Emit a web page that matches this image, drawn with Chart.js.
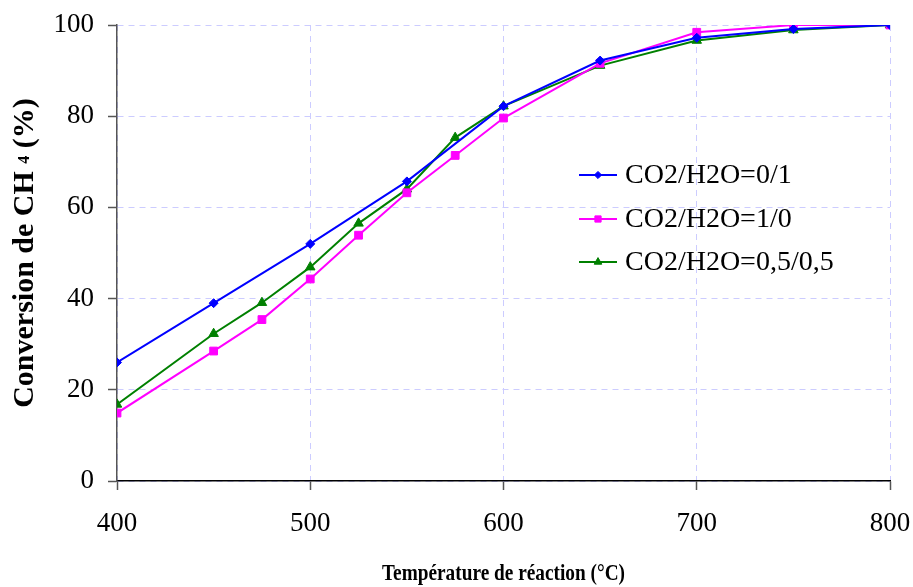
<!DOCTYPE html>
<html>
<head>
<meta charset="utf-8">
<script src="https://cdn.jsdelivr.net/npm/chart.js@4/dist/chart.umd.min.js"></script>
<style>
html,body{margin:0;padding:0;background:#fff;}
#wrap{width:913px;height:587px;position:relative;}
</style>
</head>
<body>
<div id="wrap"><canvas id="c" width="913" height="587"></canvas></div>
<script>
// Data
const xLabelTitle = "Température de réaction (°C)";
const yTitleParts = ["Conversion de CH ", "4", " (%)"];   // "4" is drawn as a small subscript
const seriesNames = ["CO2/H2O=0/1", "CO2/H2O=1/0", "CO2/H2O=0,5/0,5"];

const tempBlue = [400, 450, 500, 550, 600, 650, 700, 750, 800];
const convBlue = [26.0, 39.0, 52.0, 65.7, 82.2, 92.2, 97.2, 99.1, 100];

const tempMagenta = [400, 450, 475, 500, 525, 550, 575, 600, 650, 700, 750, 800];
const convMagenta = [14.9, 28.5, 35.4, 44.3, 53.9, 63.2, 71.4, 79.6, 91.6, 98.4, 100, 100];

const tempGreen = [400, 450, 475, 500, 525, 550, 575, 600, 650, 700, 750, 800];
const convGreen = [16.8, 32.3, 39.1, 46.9, 56.5, 64.0, 75.3, 82.2, 91.1, 96.6, 98.9, 100];

const xTicks = [400, 500, 600, 700, 800];
const yTicks = [0, 20, 40, 60, 80, 100];

function pts(xs, ys) { return xs.map((x, i) => ({x: x, y: ys[i]})); }

const FONT = "'Liberation Serif', 'Times New Roman', serif";
const GRID = '#ccccff';

const legendPlugin = {
  id: 'inlineLegend',
  afterDraw(chart) {
    const ctx = chart.ctx;
    const x0 = 579, x1 = 617, tx = 625;
    const rows = [175, 219, 262];
    ctx.save();
    chart.data.datasets.forEach((ds, i) => {
      const y = rows[i];
      ctx.strokeStyle = ds.borderColor;
      ctx.lineWidth = 2;
      ctx.setLineDash([]);
      ctx.beginPath();
      ctx.moveTo(x0, y); ctx.lineTo(x1, y); ctx.stroke();
      ctx.fillStyle = ds.backgroundColor;
      ctx.strokeStyle = ds.borderColor;
      ctx.lineWidth = 1;
      Chart.helpers.drawPoint(ctx, {
        pointStyle: ds.pointStyle,
        radius: ds.pointRadius * 0.8,
        borderWidth: 1,
        rotation: 0
      }, (x0 + x1) / 2, y);
      ctx.fillStyle = '#000';
      ctx.font = "28px " + FONT;
      ctx.textBaseline = 'middle';
      ctx.textAlign = 'left';
      ctx.fillText(ds.label, tx, y + 1);
    });
    ctx.restore();
  }
};

const titlesPlugin = {
  id: 'axisTitles',
  afterDraw(chart) {
    const ctx = chart.ctx;
    const area = chart.chartArea;
    // y-axis title (rotated) with small "4"
    const big = "bold 30px " + FONT, small = "bold 16px " + FONT;
    ctx.save();
    ctx.font = big;
    const w0 = ctx.measureText(yTitleParts[0]).width;
    const w2 = ctx.measureText(yTitleParts[2]).width;
    ctx.font = small;
    const w1 = ctx.measureText(yTitleParts[1]).width;
    const total = w0 + w1 + w2;
    const cy = (area.top + area.bottom) / 2;
    ctx.translate(33, cy);
    ctx.rotate(-Math.PI / 2);
    ctx.fillStyle = '#000';
    ctx.textAlign = 'left';
    ctx.textBaseline = 'alphabetic';
    let x = -total / 2;
    ctx.font = big; ctx.fillText(yTitleParts[0], x, 0); x += w0;
    ctx.font = small; ctx.fillText(yTitleParts[1], x, -4); x += w1;
    ctx.font = big; ctx.fillText(yTitleParts[2], x, 0);
    ctx.restore();

    // x-axis title: tall, narrow bold serif
    ctx.save();
    ctx.font = "bold 24px " + FONT;
    const wx = ctx.measureText(xLabelTitle).width;
    const sx = 243 / wx;
    ctx.translate((area.left + area.right) / 2, 580);
    ctx.scale(sx, 1);
    ctx.fillStyle = '#000';
    ctx.textAlign = 'center';
    ctx.textBaseline = 'alphabetic';
    ctx.fillText(xLabelTitle, 0, 0);
    ctx.restore();
  }
};

new Chart(document.getElementById('c'), {
  type: 'line',
  data: {
    datasets: [
      {label: seriesNames[0], data: pts(tempBlue, convBlue), borderColor: '#0000FF', backgroundColor: '#0000FF',
       pointStyle: 'rectRot', pointRadius: 4.5, borderWidth: 2, pointBorderWidth: 1},
      {label: seriesNames[1], data: pts(tempMagenta, convMagenta), borderColor: '#FF00FF', backgroundColor: '#FF00FF',
       pointStyle: 'rect', pointRadius: 5.5, borderWidth: 2, pointBorderWidth: 1},
      {label: seriesNames[2], data: pts(tempGreen, convGreen), borderColor: '#008000', backgroundColor: '#008000',
       pointStyle: 'triangle', pointRadius: 5.5, borderWidth: 2, pointBorderWidth: 1}
    ]
  },
  options: {
    responsive: false,
    animation: false,
    events: [],
    layout: {padding: {top: 25, right: 23, left: 0, bottom: 0}},
    plugins: {legend: {display: false}, tooltip: {enabled: false}},
    scales: {
      x: {
        type: 'linear', min: 400, max: 800,
        afterBuildTicks: (s) => { s.ticks = xTicks.map(v => ({value: v})); },
        afterFit: (s) => { s.height = 106; s.paddingRight = 0; s.paddingLeft = 0; },
        border: {display: true, color: '#000', width: 1.5, dash: [6, 5]},
        grid: {color: GRID, lineWidth: 1, drawTicks: true,
               tickLength: 9, tickColor: '#555', tickBorderDash: [], tickWidth: 1.5},
        ticks: {color: '#000', font: {family: FONT, size: 27}, padding: 18, maxRotation: 0},
        title: {display: false}
      },
      y: {
        type: 'linear', min: 0, max: 100,
        afterBuildTicks: (s) => { s.ticks = yTicks.map(v => ({value: v})); },
        afterFit: (s) => { s.width = 117; s.paddingTop = 0; s.paddingBottom = 0; },
        border: {display: true, color: '#555', width: 1.5, dash: [6, 5]},
        grid: {color: GRID, lineWidth: 1, drawTicks: true,
               tickLength: 9, tickColor: '#555', tickBorderDash: [], tickWidth: 1.5},
        ticks: {color: '#000', font: {family: FONT, size: 27}, padding: 14},
        title: {display: false}
      }
    }
  },
  plugins: [legendPlugin, titlesPlugin]
});
</script>
</body>
</html>
